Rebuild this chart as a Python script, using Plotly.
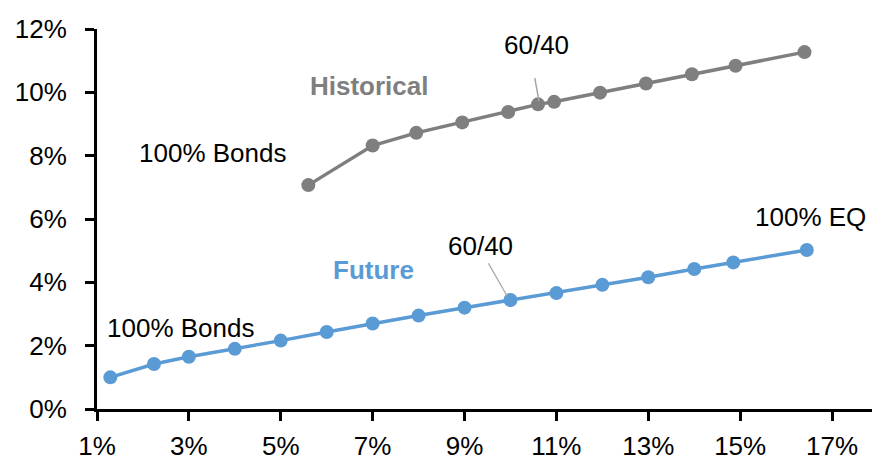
import plotly.graph_objects as go

# Historical risk/return (x = volatility %, y = return %)
hist_vol = [5.6, 7.0, 7.95, 8.95, 9.95, 10.6, 10.95, 11.95, 12.95, 13.95, 14.9, 16.4]
hist_ret = [7.07, 8.32, 8.72, 9.05, 9.38, 9.62, 9.70, 9.99, 10.28, 10.57, 10.84, 11.27]

# Future risk/return
fut_vol = [1.29, 2.24, 3.0, 4.0, 5.0, 6.0, 7.0, 8.0, 9.0, 10.0, 11.0, 12.0, 13.0, 14.0, 14.85, 16.45]
fut_ret = [1.0, 1.42, 1.65, 1.90, 2.16, 2.43, 2.70, 2.95, 3.20, 3.44, 3.66, 3.92, 4.16, 4.42, 4.63, 5.02]

x_ticks = [1, 3, 5, 7, 9, 11, 13, 15, 17]
y_ticks = [0, 2, 4, 6, 8, 10, 12]

GRAY = "#7f7f7f"
BLUE = "#5b9bd5"
FONT = "Liberation Sans, Arial, sans-serif"

fig = go.Figure()
fig.add_trace(go.Scatter(x=hist_vol, y=hist_ret, mode="lines+markers",
                         line=dict(color=GRAY, width=3.5),
                         marker=dict(color=GRAY, size=14),
                         cliponaxis=False, showlegend=False))
fig.add_trace(go.Scatter(x=fut_vol, y=fut_ret, mode="lines+markers",
                         line=dict(color=BLUE, width=3.5),
                         marker=dict(color=BLUE, size=14),
                         cliponaxis=False, showlegend=False))

def txt(x, y, s, color="black", bold=False):
    fig.add_annotation(x=x, y=y, text=f"<b>{s}</b>" if bold else s, showarrow=False,
                       font=dict(family=FONT, size=26, color=color),
                       xanchor="center", yanchor="middle")

# Historical labels
txt(3.52, 8.09, "100% Bonds")
txt(6.94, 10.2, "Historical", GRAY, True)
txt(10.56, 11.5, "60/40")
txt(16.37, 12.3, "100% EQ")
# Future labels
txt(2.81, 2.55, "100% Bonds")
txt(7.02, 4.39, "Future", BLUE, True)
txt(9.35, 5.15, "60/40")
txt(16.52, 6.05, "100% EQ")

# leader lines
fig.add_shape(type="line", x0=10.53, y0=10.45, x1=10.62, y1=9.72,
              line=dict(color="#a6a6a6", width=1.5))
fig.add_shape(type="line", x0=9.52, y0=4.6, x1=9.93, y1=3.56,
              line=dict(color="#a6a6a6", width=1.2))

axis_common = dict(showgrid=False, zeroline=False, showline=True, linecolor="black",
                   linewidth=3, ticks="outside", ticklen=9, tickwidth=3, tickcolor="black",
                   tickfont=dict(family=FONT, size=26, color="black"), automargin=False)
fig.update_xaxes(range=[1, 18], tickvals=x_ticks, ticktext=[f"{v}%" for v in x_ticks],
                 ticklabelstandoff=3, **axis_common)
fig.update_yaxes(range=[0, 12], tickvals=y_ticks, ticktext=[f"{v}%" for v in y_ticks],
                 ticklabelstandoff=13, **axis_common)

# page body has an 8px margin, so the figure is offset to compensate
fig.update_layout(width=872, height=457, plot_bgcolor="white", paper_bgcolor="white",
                  margin=dict(l=89, r=2, t=21, b=56),
                  font=dict(family=FONT, size=26, color="black"))

fig.write_html("out.html")
